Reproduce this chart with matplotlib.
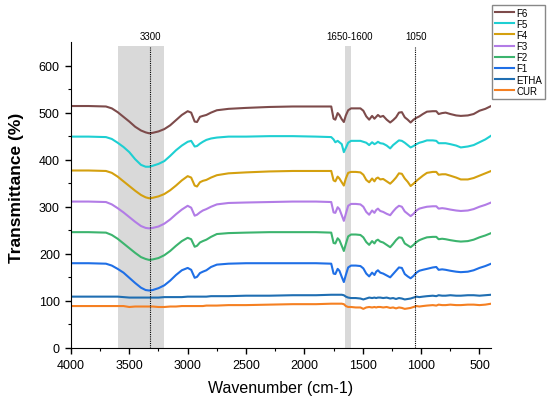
# FTIR spectra of curcumin formulations

import matplotlib.pyplot as plt

plt.rcParams['font.family'] = ['Liberation Sans', 'DejaVu Sans']

# wavenumbers (cm-1), shared by all spectra
wavenumber = [4000, 3850, 3700, 3650, 3600, 3550, 3500, 3450, 3400, 3360,
              3330, 3300, 3250, 3200, 3150, 3100, 3050, 3000, 2970, 2940,
              2920, 2895, 2870, 2840, 2800, 2750, 2650, 2500, 2300, 2100,
              1900, 1770, 1750, 1735, 1715, 1700, 1680, 1662, 1645, 1625,
              1600, 1560, 1520, 1495, 1470, 1445, 1420, 1400, 1385, 1370,
              1350, 1325, 1295, 1265, 1240, 1215, 1190, 1165, 1140, 1115,
              1090, 1065, 1040, 1015, 985, 950, 900, 870, 850, 820,
              790, 750, 700, 660, 600, 550, 500, 450, 400]

# transmittance (%) of each sample, stacked as in the figure
f6 = [514, 514, 513, 509, 501, 491, 481, 470, 462, 458,
      456, 457, 460, 465, 473, 484, 495, 503, 500, 481,
      480, 491, 493, 495, 500, 505, 508, 510, 512, 513,
      513, 513, 487, 485, 499, 495, 486, 480, 494, 505,
      509, 509, 509, 504, 492, 485, 493, 487, 491, 495,
      491, 493, 485, 479, 484, 490, 500, 501, 490, 485,
      479, 485, 489, 492, 497, 502, 503, 503, 497, 499,
      500, 497, 494, 493, 494, 497, 504, 508, 514]
f5 = [449, 449, 448, 444, 436, 427, 416, 401, 389, 385,
      385, 387, 391, 397, 408, 420, 430, 438, 440, 428,
      429, 434, 438, 442, 445, 447, 449, 449, 450, 450,
      449, 448, 443, 437, 440, 437, 433, 416, 425, 436,
      440, 440, 440, 438, 436, 431, 437, 433, 435, 438,
      435, 434, 430, 424, 431, 436, 441, 440, 436, 431,
      426, 429, 433, 436, 438, 441, 441, 440, 435, 435,
      435, 433, 430, 426, 428, 431, 437, 443, 451]
f4 = [377, 377, 376, 372, 364, 354, 344, 334, 325, 320,
      318, 319, 322, 327, 335, 345, 356, 365, 362, 345,
      343, 352, 355, 357, 362, 367, 371, 373, 375, 376,
      376, 376, 356, 354, 364, 360, 352, 345, 360, 372,
      374, 374, 373, 368, 357, 352, 360, 354, 360, 362,
      358, 359, 354, 349, 355, 362, 371, 370, 360, 353,
      344, 349, 355, 360, 366, 372, 374, 374, 368, 369,
      369, 366, 362, 358, 358, 361, 366, 371, 376]
f3 = [311, 311, 310, 305, 297, 288, 278, 268, 259, 255,
      254, 255, 258, 264, 273, 284, 294, 302, 298, 281,
      283, 288, 292, 295, 300, 305, 308, 309, 310, 311,
      311, 310, 288, 287, 299, 295, 282, 270, 285, 302,
      306, 306, 305, 300, 289, 283, 292, 287, 293, 296,
      291, 289, 285, 282, 290, 297, 302, 300, 290, 285,
      280, 285, 292, 296, 298, 300, 301, 301, 296, 297,
      296, 294, 292, 291, 292, 295, 300, 304, 309]
f2 = [246, 246, 245, 240, 232, 222, 212, 202, 193, 189,
      187, 188, 191, 197, 206, 217, 227, 234, 231, 215,
      217, 224, 227, 230, 236, 242, 244, 245, 246, 246,
      246, 245, 223, 222, 233, 229, 217, 206, 221, 237,
      241, 241, 240, 235, 225, 219, 227, 222, 228, 230,
      226, 224, 219, 214, 221, 229, 235, 234, 222, 218,
      214, 219, 225, 229, 232, 235, 236, 236, 231, 232,
      231, 229, 227, 226, 227, 230, 235, 239, 244]
f1 = [180, 180, 179, 175, 168, 160, 149, 138, 128, 123,
      122, 123, 127, 133, 143, 155, 165, 170, 166, 149,
      151, 159, 162, 165, 172, 177, 179, 180, 180, 180,
      180, 179, 158, 157, 168, 164, 151, 140, 155, 171,
      175, 175, 174, 169, 158, 152, 160, 155, 162, 165,
      160, 158, 154, 150, 157, 164, 171, 170, 157, 152,
      148, 153, 160, 164, 166, 168, 171, 172, 166, 167,
      166, 164, 162, 161, 162, 165, 170, 174, 179]
etha = [109, 109, 109, 109, 109, 108, 107, 107, 107, 107,
        107, 107, 107, 108, 108, 108, 108, 109, 109, 109,
        109, 109, 109, 109, 110, 110, 110, 111, 111, 112,
        112, 113, 113, 113, 113, 113, 113, 112, 109, 107,
        106, 106, 105, 103, 105, 107, 106, 107, 106, 107,
        107, 106, 107, 105, 106, 104, 106, 105, 103, 104,
        105, 107, 109, 108, 109, 110, 111, 110, 112, 111,
        111, 112, 111, 111, 112, 112, 111, 112, 113]
cur = [89, 89, 89, 89, 89, 89, 87, 88, 88, 88,
       88, 88, 87, 87, 88, 88, 89, 89, 89, 89,
       89, 89, 89, 90, 90, 90, 91, 91, 92, 93,
       93, 94, 94, 94, 94, 94, 94, 93, 89, 87,
       87, 86, 86, 83, 86, 87, 86, 87, 86, 87,
       87, 86, 87, 85, 86, 84, 86, 85, 83, 84,
       85, 87, 89, 88, 89, 90, 91, 90, 92, 91,
       91, 92, 91, 91, 92, 92, 91, 92, 94]

labels = ['F6', 'F5', 'F4', 'F3', 'F2', 'F1', 'ETHA', 'CUR']
colors = ['#7d4b4b', '#1ecfd2', '#d4a00f', '#b27ce6', '#3cb46e', '#1f6fe6', '#1f6eb2', '#f58022']
spectra = [f6, f5, f4, f3, f2, f1, etha, cur]

# marked bands
band_oh = (3600, 3200)
band_co = (1650, 1600)
line_oh = 3320
line_co = 1050

fig = plt.figure(figsize=(5.5, 4.02), dpi=100)
ax = fig.add_axes([0.129, 0.132, 0.764, 0.761])

ax.axvspan(band_oh[0], band_oh[1], ymin=0, ymax=642 / 650, color='#d9d9d9', lw=0, zorder=0)
ax.axvspan(band_co[0], band_co[1], ymin=0, ymax=642 / 650, color='#d9d9d9', lw=0, zorder=0)
ax.vlines([line_oh, line_co], 0, 640, colors='black', linestyles=(0, (1, 1)), lw=0.8, zorder=3)

for y, lab, c in zip(spectra, labels, colors):
    ax.plot(wavenumber, y, color=c, lw=1.5, label=lab, zorder=2)

ax.text(line_oh, 662, '3300', ha='center', va='center', fontsize=7)
ax.text(1610, 662, '1650-1600', ha='center', va='center', fontsize=7)
ax.text(1044, 662, '1050', ha='center', va='center', fontsize=7)

ax.set_xlim(4000, 400)
ax.set_ylim(0, 650)
ax.set_xticks([4000, 3500, 3000, 2500, 2000, 1500, 1000, 500])
ax.set_xticks(range(3750, 400, -500), minor=True)
ax.set_yticks([0, 100, 200, 300, 400, 500, 600])
ax.set_yticks(range(50, 650, 100), minor=True)
ax.tick_params(which='major', direction='out', length=4.5, width=1, labelsize=9)
ax.tick_params(which='minor', direction='out', length=2.2, width=0.8)

ax.spines['top'].set_visible(False)
ax.spines['right'].set_visible(False)

ax.set_xlabel('Wavenumber (cm-1)', fontsize=11.5)
ax.set_ylabel('Transmittance (%)', fontsize=12.5, fontweight='bold')
ax.xaxis.set_label_coords(0.5, -0.105)
ax.yaxis.set_label_coords(-0.111, 0.526)

fig.legend(loc='upper right', bbox_to_anchor=(0.991, 0.986), fontsize=7,
           handlelength=2.0, handletextpad=0.2, labelspacing=0.12,
           borderpad=0.3, borderaxespad=0, fancybox=False,
           edgecolor='#888888', framealpha=1)

fig.savefig('out.png', dpi=100)
